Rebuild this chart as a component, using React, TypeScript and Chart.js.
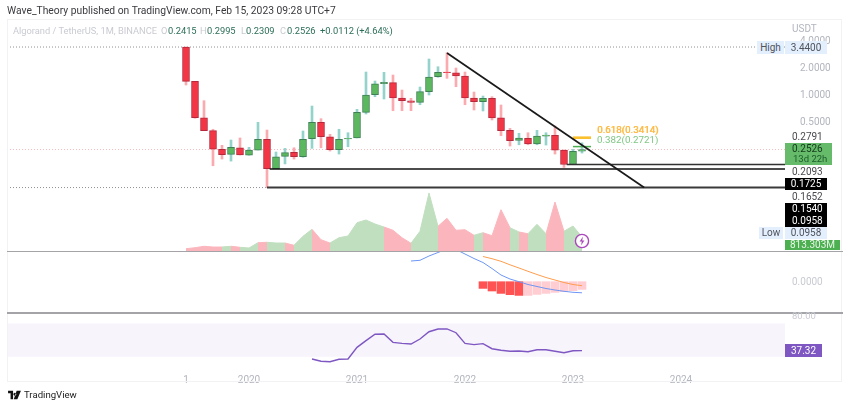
import React, { useEffect, useRef } from "react";
import { Chart, registerables } from "chart.js";

Chart.register(...registerables);

const opens = [3.44,1.436,0.568,0.408,0.254,0.2235,0.264,0.218,0.249,0.3275,0.155,0.212,0.235,0.21,0.333,0.505,0.35,0.251,0.33,0.339,0.652,1.021,1.351,1.386,0.938,0.876,0.841,1.102,1.615,1.82,1.788,1.644,0.938,0.854,0.931,0.568,0.412,0.319,0.336,0.291,0.356,0.363,0.249,0.1725,0.2415];
const highs = [3.44,1.436,0.876,0.423,0.281,0.322,0.339,0.267,0.505,0.415,0.237,0.26,0.264,0.405,0.765,0.554,0.372,0.423,0.3875,0.703,1.82,1.447,1.806,1.686,1.15,0.931,1.242,2.535,2.083,2.977,2.015,1.82,1.093,0.987,0.97,0.785,0.433,0.382,0.3875,0.412,0.3875,0.46,0.249,0.254,0.2995];
const lows = [1.307,0.559,0.408,0.167,0.198,0.188,0.2195,0.218,0.249,0.0958,0.155,0.175,0.198,0.207,0.26,0.264,0.243,0.225,0.271,0.339,0.624,0.97,0.915,0.679,0.679,0.679,0.791,1.013,1.59,1.55,1.251,0.791,0.691,0.674,0.536,0.359,0.276,0.285,0.285,0.285,0.283,0.225,0.16,0.1725,0.2309];
const closes = [1.436,0.568,0.408,0.254,0.221,0.267,0.2195,0.249,0.3275,0.155,0.21,0.233,0.21,0.3275,0.505,0.35,0.251,0.3275,0.336,0.652,1.013,1.351,1.4,0.938,0.876,0.841,1.102,1.602,1.806,1.788,1.644,0.938,0.854,0.931,0.564,0.408,0.316,0.339,0.291,0.356,0.365,0.249,0.1725,0.2415,0.2526];
const volumes = [133,191,273,232,232,273,215,174,481,505,464,464,331,853,1259,655,464,771,870,1641,1798,1566,1392,1201,771,447,1143,3364,1433,1897,1201,1235,911,1061,887,2395,1351,1102,1003,1549,1003,2842,1143,1450,813.303];
const macdStart = 25;
const macdLine = [0.207,0.214,0.257,0.292,0.327,0.322,0.277,0.232,0.192,0.132,0.067,0.027,0,-0.028,-0.048,-0.068,-0.083,-0.096,-0.106,-0.111];
const signalStart = 33;
const signalLine = [0.252,0.23,0.204,0.169,0.137,0.104,0.072,0.042,0.017,-0.008,-0.028,-0.04];
const histStart = 33;
const histogram = [-0.067,-0.093,-0.117,-0.13,-0.137,-0.137,-0.127,-0.117,-0.107,-0.1,-0.09,-0.077];
const rsiStart = 14;
const rsiValues = [27.2,24.5,24,26.9,27.2,41.3,49.3,57,57.3,47.3,46.1,45.3,51.3,60.1,63.4,63.4,58.9,46.1,44.5,45.7,39.6,37.7,36.5,36.9,36,38.4,38.4,36.5,34.8,37.2,37.32];
const priceTicks = [4, 2, 1, 0.5];
const yearTickMonths = [0, 7, 19, 31, 43, 55];
const yearTickLabels = ["1", "2020", "2021", "2022", "2023", "2024"];
const highPrice = 3.44;
const lowPrice = 0.0958;
const lastPrice = 0.2526;
const level1725 = 0.1725;
const level154 = 0.154;
const fib618 = 0.3414;
const fib382 = 0.2721;
const trendStart = { k: 29, p: 2.95 };
const trendEnd = { k: 50.9, p: 0.0958 };
const band = [30, 70];

const UI = "Roboto, 'Liberation Sans', sans-serif";
const FS = 10;
const LEGEND_FS = 9.3;
const X_MIN = -19.889;
const X_MAX = 66.556;

const UP = "#5cb85f", UP_EDGE = "#3f7f55", UP_WICK = "#93d3cc";
const DN = "#f23645", DN_EDGE = "#b5293c", DN_WICK = "#fbaab0";
const isUp = (i: number) => closes[i] >= opens[i];

const series = (arr: number[], start: number) => arr.map((y, i) => ({ x: start + i, y }));
const hline = (y: number, a: number, b: number, color: string, width: number, dash: number[] = [], order = 1) => ({
  type: "line" as const, yAxisID: "y", order,
  data: [{ x: a, y }, { x: b, y }],
  borderColor: color, borderWidth: width, borderDash: dash, pointRadius: 0, fill: false,
});

function Txt({ x, y, c, s = FS, w, children, box, h, align, ff }: any) {
  return (
    <div style={{
      position: "absolute", left: x, top: y - (h ?? 14) / 2, height: h ?? 14, lineHeight: (h ?? 14) + "px",
      color: c, fontSize: s, fontFamily: ff ?? UI, whiteSpace: "pre", background: box, width: w, textAlign: align,
    }}>{children}</div>
  );
}

export default function App() {
  const ref = useRef<HTMLCanvasElement>(null);
  useEffect(() => {
    const idx = opens.map((_, i) => i);
    const wick = {
      type: "bar" as const, yAxisID: "y", grouped: false, order: 6, barThickness: 2,
      data: idx.map(i => ({ x: i, y: [lows[i], highs[i]] })),
      backgroundColor: idx.map(i => (isUp(i) ? UP_WICK : DN_WICK)),
      borderWidth: 0,
    };
    const body = {
      type: "bar" as const, yAxisID: "y", grouped: false, order: 5, barThickness: 7,
      data: idx.map(i => ({ x: i, y: [Math.min(opens[i], closes[i]), Math.max(opens[i], closes[i])] })),
      backgroundColor: idx.map(i => (isUp(i) ? UP : DN)),
      borderColor: idx.map(i => (isUp(i) ? UP_EDGE : DN_EDGE)),
      borderWidth: 1, borderSkipped: false,
    };
    const chart = new Chart(ref.current as HTMLCanvasElement, {
      type: "bar",
      data: {
        datasets: [
          {
            type: "line", yAxisID: "yRsi", order: 12, label: "band",
            data: [{ x: X_MIN, y: band[1] }, { x: X_MAX, y: band[1] }],
            borderWidth: 0, pointRadius: 0, backgroundColor: "#f7f4fc", fill: { value: band[0] },
          },
          {
            type: "line", yAxisID: "yVol", order: 11, label: "Volume",
            data: series(volumes, 0), pointRadius: 0, borderWidth: 1, tension: 0,
            fill: { value: 0 }, backgroundColor: "#c0dfbf", borderColor: "#c0dfbf",
            segment: {
              backgroundColor: (c: any) => (isUp(c.p1DataIndex) ? "#c0dfbf" : "#fbb6bd"),
              borderColor: (c: any) => (isUp(c.p1DataIndex) ? "#c0dfbf" : "#fbb6bd"),
            },
          },
          hline(highPrice, X_MIN, X_MAX, "#8f8f96", 1, [1, 2], 10),
          hline(lowPrice, X_MIN, 9, "#8f8f96", 1, [1, 2], 10),
          hline(lastPrice, X_MIN, X_MAX, "#f9bcc1", 1, [1, 2], 10),
          wick, body,
          hline(level154, 9.3, X_MAX, "#111111", 1.6, [], 3),
          hline(level1725, 42.3, X_MAX, "#333333", 1.6, [], 3),
          hline(lowPrice, 9, X_MAX, "#3a3a3a", 2, [], 3),
          hline(fib618, 43, 45, "#fbc02d", 2.6, [], 3),
          hline(fib382, 43, 45, "#4caf50", 1.5, [], 3),
          {
            type: "line", yAxisID: "y", order: 2, label: "Trend",
            data: [{ x: trendStart.k, y: trendStart.p }, { x: trendEnd.k, y: trendEnd.p }],
            borderColor: "#1a1a1a", borderWidth: 1.7, pointRadius: 0,
          },
          {
            type: "bar", yAxisID: "yMacd", grouped: false, order: 4, barThickness: 8, label: "Histogram",
            data: series(histogram, histStart),
            backgroundColor: histogram.map((v, i) => (i === 0 || v < histogram[i - 1] ? "#ff5252" : "#ffcdd2")),
          },
          {
            type: "line", yAxisID: "yMacd", order: 3, label: "MACD", data: series(macdLine, macdStart),
            borderColor: "#6d96f5", borderWidth: 1, pointRadius: 0, clip: { top: -231, left: 0, right: 0, bottom: 0 },
          },
          {
            type: "line", yAxisID: "yMacd", order: 3, label: "Signal", data: series(signalLine, signalStart),
            borderColor: "#ff9d4d", borderWidth: 1, pointRadius: 0,
          },
          {
            type: "line", yAxisID: "yRsi", order: 2, label: "RSI", data: series(rsiValues, rsiStart),
            borderColor: "#7e57c2", borderWidth: 1.4, pointRadius: 0, clip: { top: -293, left: 0, right: 0, bottom: 0 },
          },
        ] as any,
      },
      options: {
        animation: false, responsive: false,
        layout: { padding: { left: 7, top: 20, right: 8, bottom: 0 } },
        plugins: { legend: { display: false }, tooltip: { enabled: false } },
        scales: {
          x: {
            type: "linear", min: X_MIN, max: X_MAX, bounds: "data", offset: false,
            grid: { display: false }, border: { display: false },
            afterFit: (s: any) => { s.height = 45; },
            afterBuildTicks: (s: any) => { s.ticks = yearTickMonths.map(value => ({ value })); },
            ticks: {
              autoSkip: false, maxRotation: 0, padding: 3, color: "#b2b5be",
              font: { family: UI, size: FS },
              callback: (v: any) => yearTickLabels[yearTickMonths.indexOf(Number(v))] ?? "",
            },
          },
          y: {
            type: "logarithmic", position: "right", min: 0.001096, max: 6.85, bounds: "data",
            grid: { display: false }, border: { display: false },
            afterFit: (s: any) => { s.width = 57; },
            afterBuildTicks: (s: any) => { s.ticks = priceTicks.map(value => ({ value })); },
            ticks: {
              autoSkip: false, padding: 7, color: "#b2b5be", font: { family: UI, size: FS },
              callback: (v: any) => Number(v).toFixed(4),
            },
          },
          yVol: { type: "linear", display: false, min: -6496, max: 13398, bounds: "data" },
          yMacd: { type: "linear", display: false, min: -0.813, max: 2.617, bounds: "data" },
          yRsi: { type: "linear", display: false, min: 22.4, max: 435.7, bounds: "data" },
        },
      } as any,
    });
    return () => chart.destroy();
  }, []);

  const mono = { position: "absolute" } as const;
  return (
    <div style={{ position: "absolute", left: 0, top: 0, width: 850, height: 408, background: "#fff", overflow: "hidden" }}>
      <canvas ref={ref} width={850} height={408} style={{ position: "absolute", left: 0, top: 0, width: 850, height: 408 }} />
      <div style={{ ...mono, left: 7, top: 19, width: 835, height: 363, border: "1px solid #f2f2f4", boxSizing: "border-box", pointerEvents: "none" }} />
      <div style={{ ...mono, left: 7, top: 250.5, width: 836, height: 1.5, background: "#a3a3a8" }} />
      <div style={{ ...mono, left: 7, top: 312, width: 836, height: 1.5, background: "#a3a3a8" }} />

      <Txt x={7} y={11} c="#3a3a3f" s={10.3}>Wave_Theory published on TradingView.com, Feb 15, 2023 09:28 UTC+7</Txt>
      <Txt x={13} y={31} c="#c9cbd2" s={LEGEND_FS}>Algorand / TetherUS, 1M, BINANCE</Txt>
      <Txt x={161} y={31} c="#c9cbd2" s={LEGEND_FS}>O</Txt><Txt x={168} y={31} c="#2b6e57" s={LEGEND_FS}>0.2415</Txt>
      <Txt x={200} y={31} c="#c9cbd2" s={LEGEND_FS}>H</Txt><Txt x={207} y={31} c="#2b6e57" s={LEGEND_FS}>0.2995</Txt>
      <Txt x={241} y={31} c="#c9cbd2" s={LEGEND_FS}>L</Txt><Txt x={246} y={31} c="#2b6e57" s={LEGEND_FS}>0.2309</Txt>
      <Txt x={280} y={31} c="#c9cbd2" s={LEGEND_FS}>C</Txt><Txt x={287} y={31} c="#2b6e57" s={LEGEND_FS}>0.2526</Txt>
      <Txt x={320} y={31} c="#2b6e57" s={LEGEND_FS}>+0.0112 (+4.64%)</Txt>

      <Txt x={792} y={29} c="#b2b5be">USDT</Txt>
      <Txt x={757} y={47.5} h={13} w={27} box="#e3effd" c="#50535e" align="center">High</Txt>
      <Txt x={785} y={47.5} h={13} w={42} box="#e3effd" c="#50535e" align="center">3.4400</Txt>
      <Txt x={792} y={136.5} c="#4a4a50">0.2791</Txt>
      <div style={{ ...mono, left: 785, top: 143, width: 47, height: 22, background: "#66bb6a" }} />
      <Txt x={792} y={149} c="#143a1c">0.2526</Txt>
      <Txt x={793} y={159} c="#1d5c2b" s={9.5}>13d 22h</Txt>
      <Txt x={792} y={171.5} c="#4a4a50">0.2093</Txt>
      <Txt x={785} y={184} h={12.5} w={42} box="#000" c="#fff" align="center">0.1725</Txt>
      <Txt x={792} y={196.5} c="#4a4a50">0.1652</Txt>
      <div style={{ ...mono, left: 785, top: 203, width: 42, height: 24, background: "#000" }} />
      <Txt x={792} y={209} c="#fff">0.1540</Txt>
      <Txt x={792} y={221} c="#fff">0.0958</Txt>
      <Txt x={759} y={233} h={12} w={24} box="#e3effd" c="#50535e" align="center">Low</Txt>
      <Txt x={785} y={233} h={12} w={42} box="#e3effd" c="#50535e" align="center">0.0958</Txt>
      <Txt x={785} y={245} h={10} w={55} box="#4caf50" c="#eaf6ea" align="center">813.303M</Txt>
      <Txt x={792} y={282} c="#c9cbd2">0.0000</Txt>
      <Txt x={792} y={316} c="#c9cbd2" s={9.5}>80.00</Txt>
      <Txt x={785} y={350.5} h={13} w={37} box="#7e57c2" c="#fff" align="center">37.32</Txt>

      <Txt x={597} y={130} c="#fbc02d" s={9.8}>0.618(0.3414)</Txt>
      <Txt x={597.4} y={130} c="#ffb74d" s={9.8}>0.618(0.3414)</Txt>
      <Txt x={597} y={139.5} c="#81c784" s={9.8}>0.382(0.2721)</Txt>

      <svg style={{ ...mono, left: 574, top: 233 }} width="16" height="16" viewBox="0 0 16 16">
        <circle cx="8" cy="8" r="6.6" fill="#fff" stroke="#ab47bc" strokeWidth="1.4" />
        <path d="M9 3.6 L5.6 8.6 H7.8 L7 12.4 L10.4 7.4 H8.2 Z" fill="#ab47bc" />
      </svg>

      <svg style={{ ...mono, left: 8, top: 390 }} width="13" height="10" viewBox="0 0 36 28">
        <path d="M0 2 H14 V26 H7 V9 H0 Z M14 26 M19 8 a4 4 0 1 0 0.01 0 M24 2 H36 L26 26 H16 Z" fill="#111" />
      </svg>
      <Txt x={24} y={395} c="#222" s={9.6}>TradingView</Txt>
    </div>
  );
}
